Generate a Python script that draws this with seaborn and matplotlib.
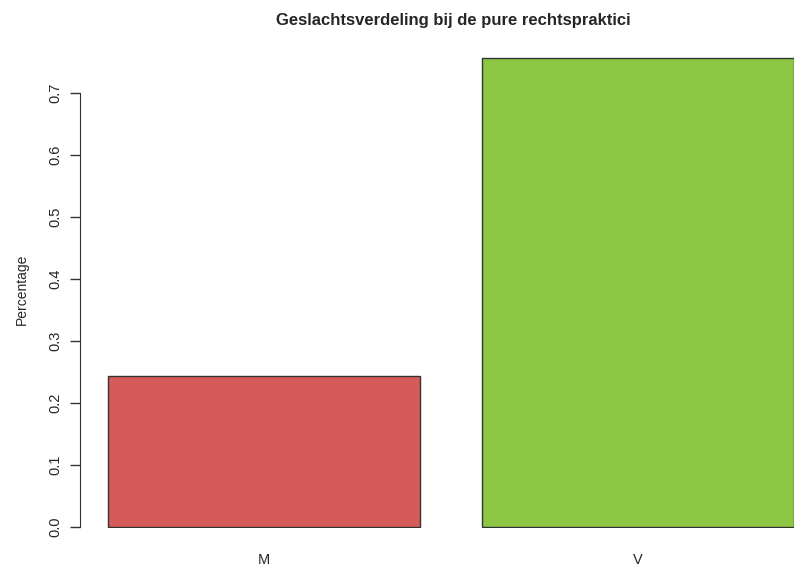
import matplotlib
matplotlib.use("Agg")
import matplotlib.pyplot as plt
import seaborn as sns
import pandas as pd

# Data
geslacht = ["M", "V"]
percentage = [0.244, 0.756]
kleuren = ["#D55A5A", "#8DC642"]

sns.set_style("white")
plt.rcParams['font.family'] = ['Liberation Sans', 'DejaVu Sans']

df = pd.DataFrame({"Geslacht": geslacht, "Percentage": percentage})

fig = plt.figure(figsize=(7.94, 5.68), dpi=100)
# axes placed so that y=0 sits at pixel 528 and the plot runs to the right edge
ax = fig.add_axes([80 / 794, (568 - 528) / 568, 714 / 794, 478 / 568])

sns.barplot(data=df, x="Geslacht", y="Percentage", hue="Geslacht",
            palette=kleuren, width=1 / 1.2, edgecolor="#333333",
            linewidth=1.0, saturation=1, legend=False, ax=ax)

ax.set_xlim(-0.491, 1.417)
ax.set_ylim(-0.002, 478 / 621.4)

for s in ["top", "right", "bottom"]:
    ax.spines[s].set_visible(False)
ax.spines["left"].set_bounds(0, 0.7)
ax.spines["left"].set_color("#333333")

ax.set_yticks([0, 0.1, 0.2, 0.3, 0.4, 0.5, 0.6, 0.7])
ax.set_yticklabels(["0.0", "0.1", "0.2", "0.3", "0.4", "0.5", "0.6", "0.7"],
                   rotation=90, va="center", fontsize=10.5)
ax.tick_params(axis="y", length=7, width=1, color="#333333", pad=6, left=True)
ax.tick_params(axis="x", length=0, pad=18, labelsize=10.5)

ax.set_xlabel("")
ax.set_ylabel("Percentage", fontsize=10, labelpad=14)

fig.text(453 / 794, 1 - 20 / 568, "Geslachtsverdeling bij de pure rechtspraktici",
         ha="center", va="center", fontsize=12, fontweight="bold")

fig.savefig("out.png", dpi=100)
